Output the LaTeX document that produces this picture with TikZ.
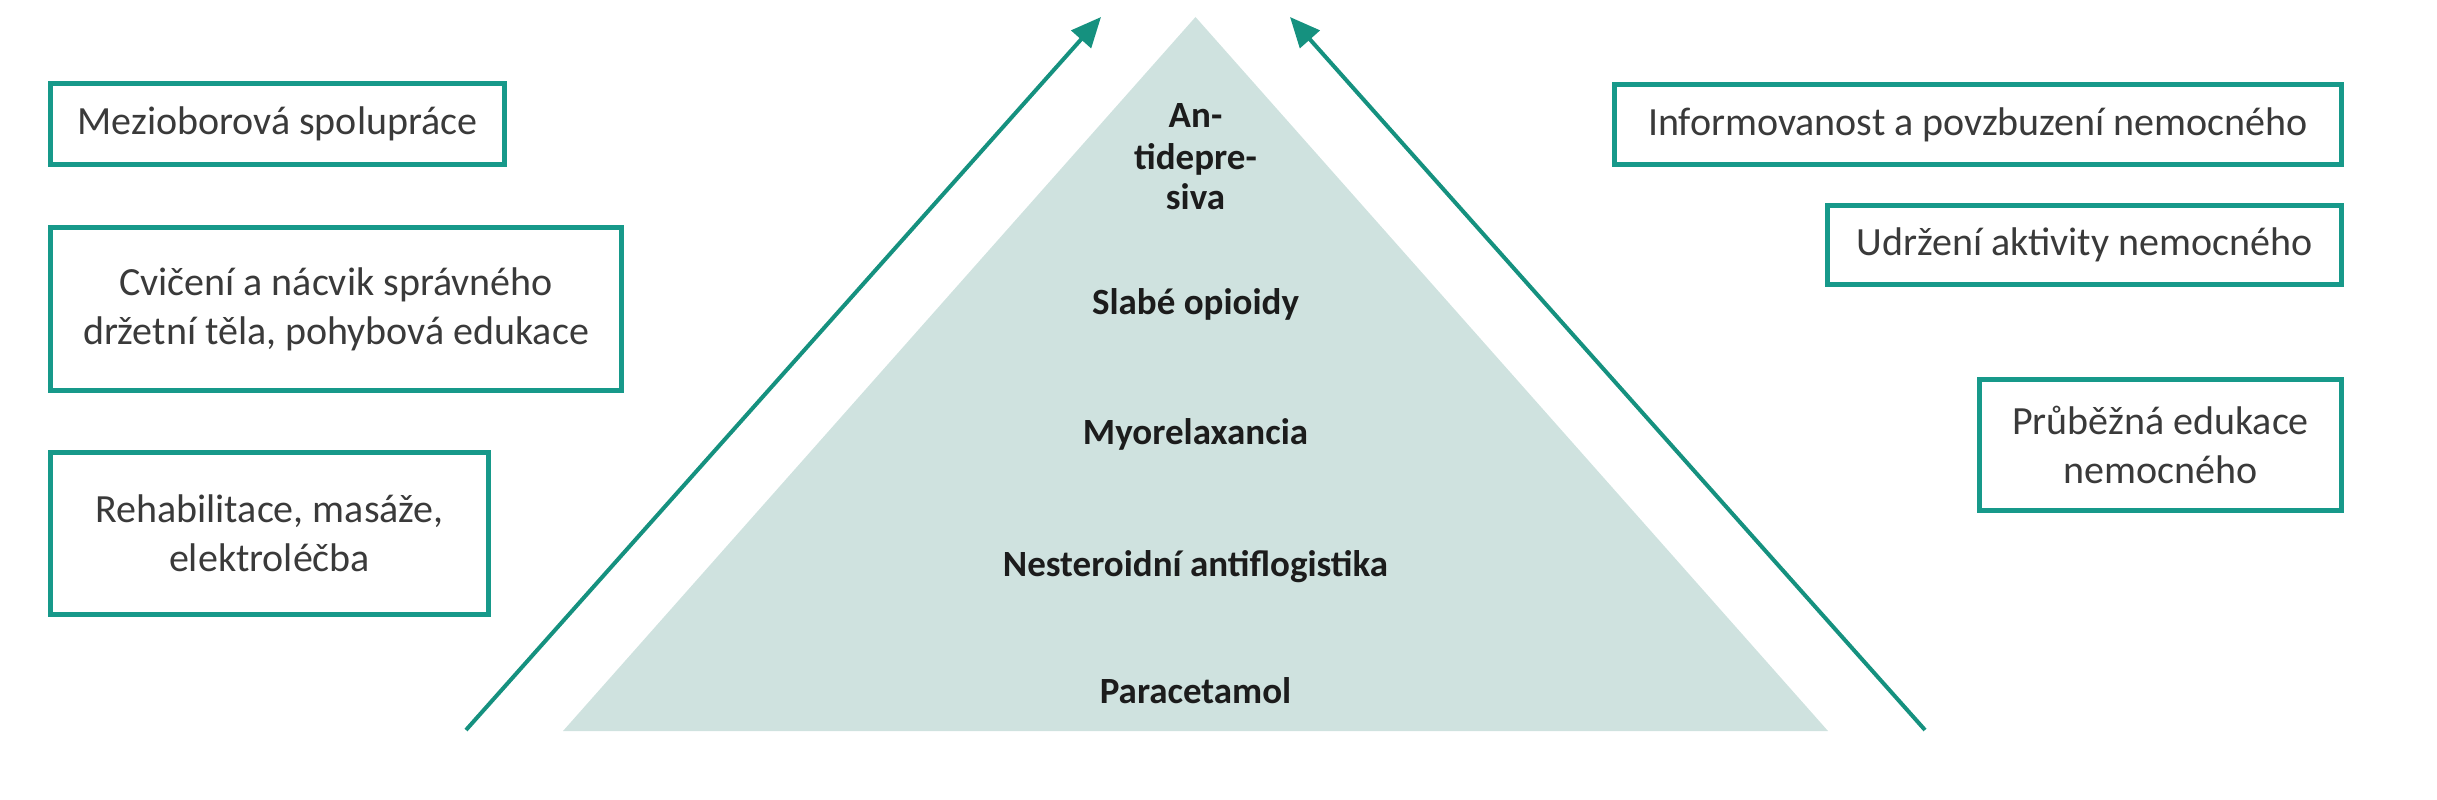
\documentclass[tikz,border=0pt]{standalone}
\usepackage{fontspec}
\setmainfont{Carlito}
\usetikzlibrary{arrows.meta}
\definecolor{teal1}{HTML}{17998A}
\definecolor{tealarrow}{HTML}{15917F}
\definecolor{pyrfill}{HTML}{CFE2DF}
\definecolor{boxtext}{HTML}{3A3A3A}
\definecolor{pyrtext}{HTML}{1C1C1C}
\tikzset{
  infobox/.style={draw=teal1, line width=5pt, fill=white, inner sep=0pt,
    align=center, text=boxtext, font=\fontsize{40}{49}\selectfont},
  pyrlabel/.style={anchor=base, inner sep=0pt, text=pyrtext,
    font=\fontsize{37}{42}\selectfont\bfseries},
  sidearrow/.style={draw=tealarrow, line width=4pt,
    -{Triangle[length=30pt,width=26pt]}}
}
\begin{document}
\begin{tikzpicture}[x=1pt,y=-1pt]
\useasboundingbox (0,0) rectangle (2437,800);
% pyramid
\fill[pyrfill] (563,731) -- (1195.5,17) -- (1828,731) -- cycle;
\node[pyrlabel] (an1) at (1195.5,127) {An-};
\node[pyrlabel] (an2) at (1195.5,169) {tidepre-};
\node[pyrlabel] (an3) at (1195.5,209) {siva};
\node[pyrlabel] (slabe) at (1195.5,314) {Slabé opioidy};
\node[pyrlabel] (myo) at (1195.5,444) {Myorelaxancia};
\node[pyrlabel] (nsa) at (1195.5,576) {Nesteroidní antiflogistika};
\node[pyrlabel] (para) at (1195.5,703) {Paracetamol};
% arrows
\coordinate (la) at (466,730);
\coordinate (lb) at (1101,17);
\coordinate (ra) at (1925,730);
\coordinate (rb) at (1290,17);
\draw[sidearrow] (la) -- (lb);
\draw[sidearrow] (ra) -- (rb);
% left boxes
\node[infobox, minimum width=454pt, minimum height=81pt] (b1) at (277.5,124) {Mezioborová spolupráce};
\node[infobox, minimum width=571pt, minimum height=163pt] (b2) at (336,309) {Cvičení a nácvik správného\\držetní těla, pohybová edukace};
\node[infobox, minimum width=438pt, minimum height=162pt] (b3) at (269.5,533.5) {Rehabilitace, masáže,\\elektroléčba};
% right boxes
\node[infobox, minimum width=727pt, minimum height=80pt] (r1) at (1978,124.5) {Informovanost a povzbuzení nemocného};
\node[infobox, minimum width=514pt, minimum height=79pt] (r2) at (2084.5,245) {Udržení aktivity nemocného};
\node[infobox, minimum width=362pt, minimum height=131pt] (r3) at (2160.5,445) {Průběžná edukace\\nemocného};
\end{tikzpicture}
\end{document}
